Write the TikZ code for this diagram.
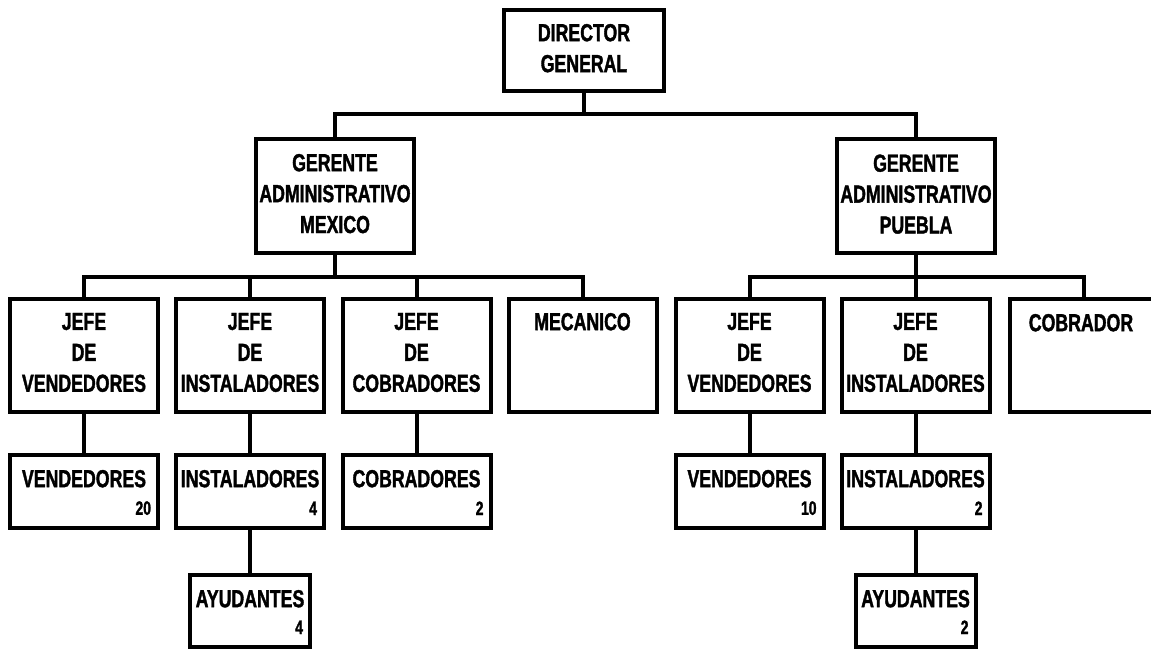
\documentclass[tikz,border=0pt]{standalone}
\usepackage{fontspec}
\newfontfamily\orgfont[FakeStretch=0.72,FakeBold=1.5]{Liberation Sans}
\usetikzlibrary{positioning}

\begin{document}
\begin{tikzpicture}[line width=0.08cm,
                    director/.style={rectangle,draw=black,minimum width=3.20cm,minimum height=1.62cm},
                    gerente/.style={rectangle,draw=black,minimum width=3.16cm,minimum height=2.28cm},
                    puesto/.style={rectangle,draw=black,minimum width=2.96cm,minimum height=2.26cm},
                    personal/.style={rectangle,draw=black,minimum width=2.96cm,minimum height=1.46cm},
                    ayudante/.style={rectangle,draw=black,minimum width=2.40cm,minimum height=1.44cm},
                    titulo/.style={inner sep=0,align=center,font=\orgfont\bfseries\fontsize{14}{17.6}\selectfont},
                    cifra/.style={inner sep=0,font=\orgfont\bfseries\fontsize{11}{13}\selectfont}
                ]
    \useasboundingbox (0,0) rectangle (23.02,-13.02);
    \coordinate (bus0) at (0,-2.28);
    \coordinate (bus1) at (0,-5.54);

    % direccion y gerencias
    \node[director] (dir) at (11.68,-1.01) {};
    \node[gerente] (gm) at (6.70,-3.92) {};
    \node[gerente] (gp) at (18.32,-3.93) {};
    \node[titulo,below=0.28cm of dir.north] (dir-t) {DIRECTOR\\GENERAL};
    \node[titulo,below=0.30cm of gm.north] (gm-t) {GERENTE\\ADMINISTRATIVO\\MEXICO};
    \node[titulo,below=0.30cm of gp.north] (gp-t) {GERENTE\\ADMINISTRATIVO\\PUEBLA};

    % jefes
    \foreach \n/\x in {jv1/1.68,ji1/5.00,jc1/8.33,mec/11.65,jv2/14.99,ji2/18.31,cob/21.67}
        {
        \node[puesto] (\n) at (\x,-7.11) {};
        }
    \node[titulo,below=0.28cm of jv1.north] (jv1-t) {JEFE\\DE\\VENDEDORES};
    \node[titulo,below=0.28cm of ji1.north] (ji1-t) {JEFE\\DE\\INSTALADORES};
    \node[titulo,below=0.28cm of jc1.north] (jc1-t) {JEFE\\DE\\COBRADORES};
    \node[titulo,below=0.28cm of mec.north] (mec-t) {MECANICO};
    \node[titulo,below=0.28cm of jv2.north] (jv2-t) {JEFE\\DE\\VENDEDORES};
    \node[titulo,below=0.28cm of ji2.north] (ji2-t) {JEFE\\DE\\INSTALADORES};
    \node[titulo,below=0.30cm of cob.north,xshift=-0.05cm] (cob-t) {COBRADOR};

    % personal
    \foreach \n/\x in {v1/1.68,i1/5.00,c1/8.33,v2/14.99,i2/18.31}
        {
        \node[personal] (\n) at (\x,-9.83) {};
        }
    \node[ayudante] (a1) at (5.00,-12.22) {};
    \node[ayudante] (a2) at (18.31,-12.22) {};
    \foreach \n/\t/\c in {v1/VENDEDORES/20,i1/INSTALADORES/4,c1/COBRADORES/2,v2/VENDEDORES/10,i2/INSTALADORES/2,a1/AYUDANTES/4,a2/AYUDANTES/2}
        {
        \node[titulo,below=0.30cm of \n.north] (\n-t) {\t};
        \node[cifra,above left=0.26cm and 0.14cm of \n.south east] (\n-n) {\c};
        }

    % lineas
    \draw (dir.south) -- (dir.south |- bus0) -| (gm.north);
    \draw (dir.south |- bus0) -| (gp.north);
    \draw (gm.south) -- (gm.south |- bus1) -| (jv1.north);
    \foreach \n in {ji1,jc1,mec}
        \draw (gm.south |- bus1) -| (\n.north);
    \draw (gp.south) -- (gp.south |- bus1) -| (jv2.north);
    \foreach \n in {ji2,cob}
        \draw (gp.south |- bus1) -| (\n.north);
    \foreach \a/\b in {jv1/v1,ji1/i1,jc1/c1,jv2/v2,ji2/i2,i1/a1,i2/a2}
        \draw (\a) -- (\b);
\end{tikzpicture}
\end{document}
